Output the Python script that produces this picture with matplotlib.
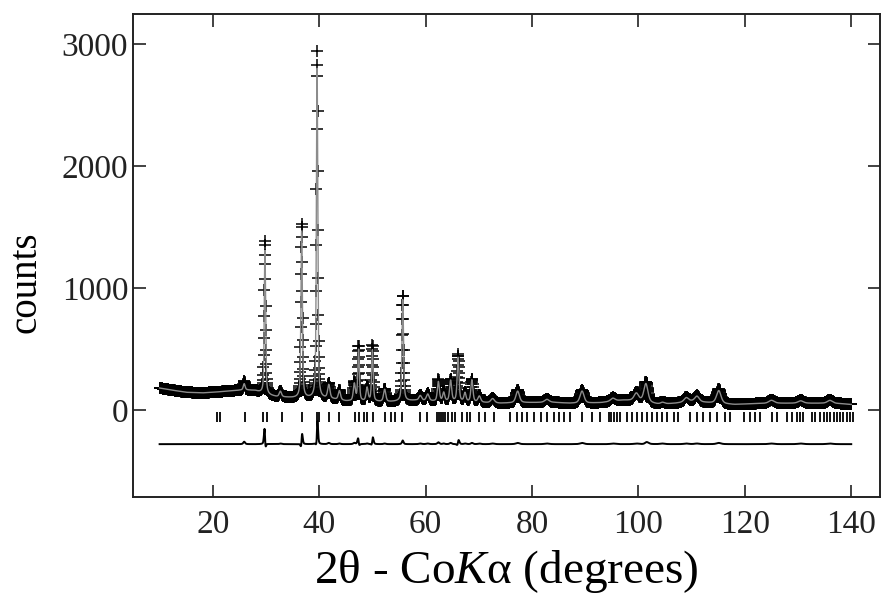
import numpy as np
import matplotlib
matplotlib.use("Agg")
import matplotlib.pyplot as plt

plt.rcParams["font.family"] = ["Liberation Serif", "DejaVu Serif"]
plt.rcParams["mathtext.fontset"] = "custom"
plt.rcParams["mathtext.rm"] = "Liberation Serif"
plt.rcParams["mathtext.it"] = "Liberation Serif:italic"

# scan range (degrees 2theta) and step
scan_start, scan_end, scan_step = 10.0, 140.0, 0.04

# background knots
bg_pos = [10, 12, 15, 18, 20, 23, 26, 28, 30, 32, 35, 40, 42, 45, 50, 53, 58, 62,
          66, 70, 74, 78, 84, 87, 90, 93, 97, 100, 104, 107, 110, 113, 118, 122,
          126, 130, 134, 138, 140]
bg_counts = [180, 165, 145, 140, 145, 155, 165, 158, 125, 108, 100, 95, 92, 72, 68,
             66, 78, 70, 70, 62, 55, 60, 62, 55, 55, 60, 80, 75, 45, 55, 70, 60, 45,
             52, 55, 55, 55, 52, 45]

# reflections: position, width, calculated and observed heights above background
peak_pos = [25.9, 29.8, 32.7, 36.7, 39.6, 41.8, 43.8, 46.6, 47.4, 49.0, 50.0, 52.3,
            55.7, 59.0, 60.4, 62.4, 63.4, 64.7, 66.1, 67.4, 68.7, 70.1, 72.6, 77.3,
            82.8, 89.4, 95.2, 99.6, 101.4, 104.5, 109.0, 111.0, 115.1, 125.0, 130.5,
            136.0]
peak_fwhm = [0.4, 0.3, 0.5, 0.32, 0.3, 0.5, 0.5, 0.45, 0.35, 0.45, 0.35, 0.5,
             0.35, 0.6, 0.6, 0.45, 0.45, 0.45, 0.4, 0.45, 0.45, 0.6, 0.8, 0.8,
             1.0, 0.9, 1.0, 1.0, 0.9, 1.0, 1.0, 1.0, 1.0, 1.2, 1.2, 1.2]
calc_height = [50, 1180, 45, 1380, 2700, 110, 75, 140, 420, 110, 420, 100,
               840, 40, 55, 160, 70, 170, 360, 70, 180, 50, 35, 95,
               25, 100, 25, 60, 150, 15, 35, 45, 105, 25, 20, 25]
obs_height = [70, 1260, 50, 1430, 2850, 120, 80, 150, 450, 115, 460, 105,
              870, 45, 60, 175, 75, 180, 380, 75, 190, 55, 40, 105,
              30, 110, 30, 65, 165, 20, 40, 50, 115, 30, 25, 30]
obs_shift = [0, -0.012, 0, 0.008, 0.006, 0, 0, 0, -0.015, 0, 0.015, 0,
             0, 0, 0, 0, 0, 0, 0.015, 0, 0, 0, 0, 0,
             0, 0, 0, 0, 0.02, 0, 0, 0, 0, 0, 0, 0]

# Bragg reflection markers
bragg_pos = [20.7, 21.4, 26.1, 29.5, 30.1, 33.0, 36.8, 39.6, 39.9, 41.8, 43.7, 46.8,
             47.4, 48.4, 49.0, 50.2, 52.4, 53.4, 54.3, 55.6, 59.0, 60.3, 62.1, 62.5,
             62.9, 63.3, 63.7, 64.3, 64.9, 65.6, 66.8, 67.8, 68.4, 70.0, 71.2, 72.8,
             75.9, 77.2, 78.1, 79.1, 80.3, 81.6, 82.8, 84.1, 85.0, 86.0, 87.2, 89.4,
             91.3, 92.8, 94.4, 94.9, 95.4, 96.0, 96.6, 97.8, 98.8, 99.7, 100.7, 101.6,
             102.5, 103.5, 104.4, 105.4, 106.6, 107.5, 109.7, 111.0, 112.2, 113.5,
             114.8, 116.3, 117.3, 119.8, 121.0, 121.9, 122.9, 125.1, 126.0, 127.9,
             128.8, 129.8, 130.4, 131.0, 132.6, 133.2, 134.2, 134.8, 135.4, 136.0,
             136.7, 137.3, 137.9, 138.5, 139.2, 139.8, 140.4]
diff_offset = -280


def pseudo_voigt(x, pos, fwhm, eta=0.5):
    g = np.exp(-4 * np.log(2) * ((x - pos) / fwhm) ** 2)
    l = 1.0 / (1 + 4 * ((x - pos) / fwhm) ** 2)
    return eta * l + (1 - eta) * g


tt = np.arange(scan_start, scan_end + scan_step / 2, scan_step)
background = np.interp(tt, bg_pos, bg_counts)
y_calc = background.copy()
y_obs = background.copy()
for p, w, hc, ho, s in zip(peak_pos, peak_fwhm, calc_height, obs_height, obs_shift):
    y_calc += hc * pseudo_voigt(tt, p, w)
    y_obs += ho * pseudo_voigt(tt, p + s, w)
y_diff = y_obs - y_calc + diff_offset

fig = plt.figure(figsize=(8.82, 6.0), dpi=100)
ax = fig.add_axes([0.1508, 0.1717, 0.8469, 0.805])

ax.plot(tt, y_obs, linestyle="none", marker="+", markersize=8, mew=1.1, color="black")
ax.plot(tt, y_calc, color="#8c8c8c", lw=1.0)
ax.vlines(bragg_pos, -100, -20, color="black", lw=1.3)
ax.plot(tt, y_diff, color="black", lw=1.4)

ax.set_xlim(5, 145.4)
ax.set_ylim(-713, 3246)
ax.set_xticks([20, 40, 60, 80, 100, 120, 140])
ax.set_yticks([0, 1000, 2000, 3000])
ax.tick_params(direction="in", length=9, width=1.2, top=True, right=True,
               labelsize=24, colors="#222222")
ax.tick_params(axis="x", pad=9)
for sp in ax.spines.values():
    sp.set_linewidth(1.4)
    sp.set_color("#222222")

ax.set_xlabel(r"2θ - Co$K$α (degrees)", fontsize=34, labelpad=6)
ax.set_ylabel("counts", fontsize=28)
ax.yaxis.set_label_coords(-0.118, 0.445)

fig.savefig("out.png", dpi=100)
